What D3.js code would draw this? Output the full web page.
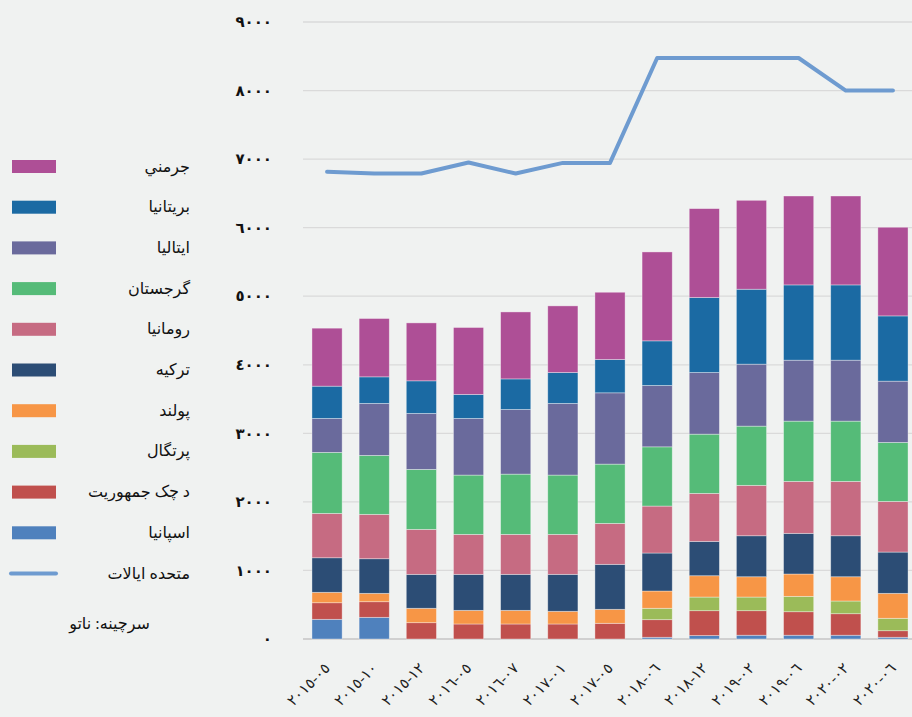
<!DOCTYPE html>
<html>
<head>
<meta charset="utf-8">
<script src="https://cdn.jsdelivr.net/npm/d3@7"></script>
<style>
  html, body { margin: 0; padding: 0; background: #f0f2f1; }
  svg { display: block; font-family: "Liberation Serif", "DejaVu Sans", serif; }
</style>
</head>
<body>
<div id="chart"></div>
<script>
// Dates (x categories)
const dates = ['٢٠١٥-٠٥', '٢٠١٥-١٠', '٢٠١٥-١٢', '٢٠١٦-٠٥', '٢٠١٦-٠٧', '٢٠١٧-٠١', '٢٠١٧-٠٥',
    '٢٠١٨-٠٦', '٢٠١٨-١٢', '٢٠١٩-٠٢', '٢٠١٩-٠٦', '٢٠٢٠-٠٢', '٢٠٢٠-٠٦'];

// Stacked series, bottom to top
const spain    = [287, 316, 0, 0, 0, 0, 0, 25, 50, 55, 55, 55, 25];
const czech    = [242, 228, 238, 219, 219, 219, 229, 257, 363, 358, 343, 314, 96];
const portugal = [0, 0, 0, 0, 0, 0, 0, 166, 199, 199, 224, 185, 181];
const poland   = [152, 122, 210, 199, 199, 185, 204, 252, 311, 296, 326, 354, 364];
const turkey   = [504, 505, 495, 525, 525, 539, 656, 554, 501, 598, 593, 598, 602];
const romania  = [647, 647, 656, 583, 583, 583, 597, 685, 700, 735, 758, 793, 739];
const georgia  = [890, 860, 875, 865, 879, 865, 865, 864, 864, 864, 879, 879, 860];
const italy    = [495, 758, 816, 826, 943, 1045, 1040, 895, 899, 904, 889, 889, 894];
const britain  = [471, 388, 476, 350, 446, 451, 486, 651, 1094, 1093, 1098, 1098, 952];
const germany  = [846, 851, 845, 977, 977, 972, 981, 1297, 1297, 1297, 1297, 1297, 1293];

// Line series
const unitedStates = [6815, 6790, 6790, 6950, 6790, 6945, 6945, 8475, 8475, 8475, 8475, 8000, 8000];

const seriesKeys   = ['spain', 'czech', 'portugal', 'poland', 'turkey', 'romania', 'georgia', 'italy', 'britain', 'germany'];
const seriesNames  = ['اسپانيا', 'د چک جمهوريت', 'پرتگال', 'پولند', 'ترکيه', 'رومانيا', 'گرجستان', 'ايتاليا', 'بريتانيا', 'جرمني'];
const seriesColors = ['#4f81bd', '#c0504d', '#9bbb59', '#f79646', '#2c4d75', '#c66b82', '#55bb78', '#6a6a9c', '#1b6aa3', '#ae4f96'];
const lineName = 'متحده ايالات';
const lineColor = '#6e9bd0';
const sourceText = 'سرچينه: ناتو';

const yTickValues = [0, 1000, 2000, 3000, 4000, 5000, 6000, 7000, 8000, 9000];
const yTickLabels = ['٠', '١٠٠٠', '٢٠٠٠', '٣٠٠٠', '٤٠٠٠', '٥٠٠٠', '٦٠٠٠', '٧٠٠٠', '٨٠٠٠', '٩٠٠٠'];

const width = 912, height = 717;

const svg = d3.select('#chart')
    .append('svg')
    .attr('width', width)
    .attr('height', height);

// Build table for the stack
const seriesData = { spain, czech, portugal, poland, turkey, romania, georgia, italy, britain, germany };
const table = dates.map((d, i) => {
    const row = { date: d };
    seriesKeys.forEach(k => { row[k] = seriesData[k][i]; });
    return row;
});
const stacked = d3.stack().keys(seriesKeys)(table);

// Scales
const x = d3.scaleBand()
    .domain(dates)
    .range([303, 917])
    .paddingInner(0.36)
    .paddingOuter(0.19);

const y = d3.scaleLinear()
    .domain([0, 9000])
    .range([639, 22]);

// Gridlines
svg.append('g')
    .selectAll('line')
    .data(yTickValues)
    .enter()
    .append('line')
    .attr('x1', 303)
    .attr('x2', 917)
    .attr('y1', d => y(d))
    .attr('y2', d => y(d))
    .attr('stroke', d => d === 0 ? '#d0d0d0' : '#dadada')
    .attr('stroke-width', d => d === 0 ? 2 : 1.3);

// Y tick labels
svg.append('g')
    .selectAll('text')
    .data(yTickValues)
    .enter()
    .append('text')
    .attr('x', 272)
    .attr('y', d => y(d))
    .attr('dy', '0.35em')
    .attr('text-anchor', 'end')
    .style('font-size', '15px')
    .style('font-weight', 'bold')
    .style('fill', '#111')
    .text((d, i) => yTickLabels[i]);

// Stacked bars
svg.append('g')
    .selectAll('g')
    .data(stacked)
    .enter()
    .append('g')
    .attr('fill', (d, i) => seriesColors[i])
    .selectAll('rect')
    .data(d => d)
    .enter()
    .append('rect')
    .attr('x', d => x(d.data.date))
    .attr('y', d => y(d[1]))
    .attr('width', x.bandwidth())
    .attr('height', d => y(d[0]) - y(d[1]))
    .attr('stroke', 'rgba(255,255,255,0.45)')
    .attr('stroke-width', 0.8);

// Line
const line = d3.line()
    .x((d, i) => x(dates[i]) + x.bandwidth() / 2)
    .y(d => y(d));

svg.append('path')
    .datum(unitedStates)
    .attr('d', line)
    .attr('fill', 'none')
    .attr('stroke', lineColor)
    .attr('stroke-width', 4)
    .attr('stroke-linejoin', 'round')
    .attr('stroke-linecap', 'round');

// X labels (rotated)
svg.append('g')
    .selectAll('text')
    .data(dates)
    .enter()
    .append('text')
    .attr('transform', d => `translate(${x(d) + x.bandwidth() / 2 + 4},${669}) rotate(-45)`)
    .attr('text-anchor', 'end')
    .attr('direction', 'ltr')
    .attr('unicode-bidi', 'bidi-override')
    .style('font-size', '15px')
    .style('fill', '#222')
    .text(d => d);

// Legend (top to bottom: reversed stack order, then the line)
const legend = svg.append('g');
const legendItems = seriesNames.map((n, i) => ({ name: n, color: seriesColors[i] })).reverse();

legendItems.forEach((d, i) => {
    const cy = 166.5 + i * 40.7;
    legend.append('rect')
        .attr('x', 12)
        .attr('y', cy - 6.5)
        .attr('width', 44)
        .attr('height', 13)
        .attr('fill', d.color);
    legend.append('text')
        .attr('x', 190)
        .attr('y', cy + 5)
        .attr('text-anchor', 'end')
        .style('font-size', '16px')
        .style('fill', '#111')
        .text(d.name);
});

const lineY = 166.5 + legendItems.length * 40.7;
legend.append('line')
    .attr('x1', 11)
    .attr('x2', 56)
    .attr('y1', lineY)
    .attr('y2', lineY)
    .attr('stroke', lineColor)
    .attr('stroke-width', 4)
    .attr('stroke-linecap', 'round');
legend.append('text')
    .attr('x', 190)
    .attr('y', lineY + 5)
    .attr('text-anchor', 'end')
    .style('font-size', '16px')
    .style('fill', '#111')
    .text(lineName);

// Source
svg.append('text')
    .attr('x', 150)
    .attr('y', 629)
    .attr('text-anchor', 'end')
    .style('font-size', '16px')
    .style('fill', '#111')
    .text(sourceText);
</script>
</body>
</html>
